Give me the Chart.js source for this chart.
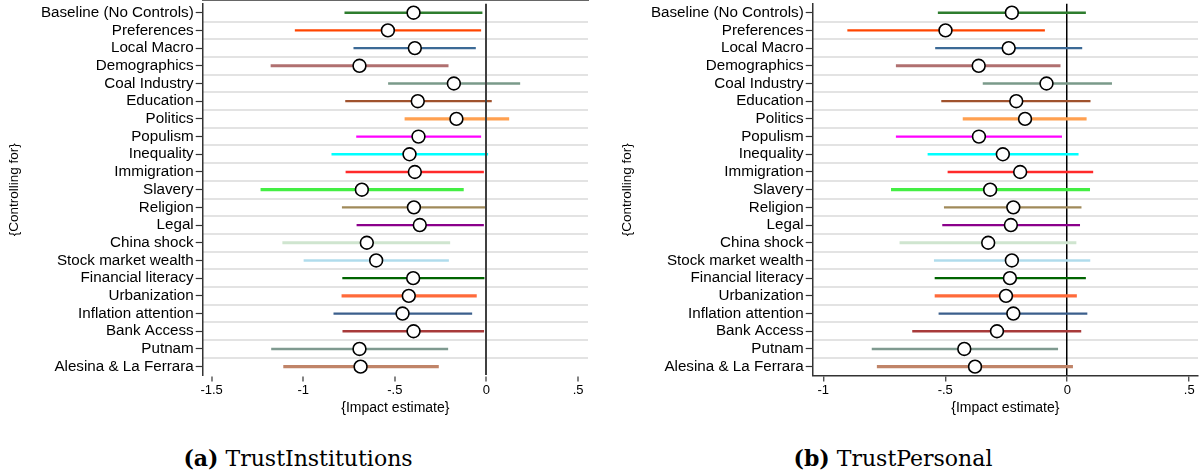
<!DOCTYPE html>
<html><head><meta charset="utf-8">
<script src="https://cdn.jsdelivr.net/npm/chart.js@4.4.1/dist/chart.umd.min.js"></script>
<style>
html,body{margin:0;padding:0;background:#fff;}
body{width:1201px;height:473px;position:relative;overflow:hidden;}
canvas{position:absolute;top:0;}
#cL{left:0;}
#cR{left:600px;}
.cap{position:absolute;top:447px;font-family:"DejaVu Serif",serif;font-size:22px;line-height:1;color:#000;white-space:nowrap;transform:translateX(-50%);}
.cap b{font-weight:bold;}
</style>
</head><body>
<canvas id="cL" width="600" height="430"></canvas>
<canvas id="cR" width="601" height="430"></canvas>
<div class="cap" style="left:298px;"><b>(a)</b> TrustInstitutions</div>
<div class="cap" style="left:893px;"><b>(b)</b> TrustPersonal</div>
<script>
const categories = ["Baseline (No Controls)","Preferences","Local Macro","Demographics","Coal Industry","Education","Politics","Populism","Inequality","Immigration","Slavery","Religion","Legal","China shock","Stock market wealth","Financial literacy","Urbanization","Inflation attention","Bank Access","Putnam","Alesina & La Ferrara"];

// Panel (a) TrustInstitutions
const instEst  = [-0.398,-0.538,-0.391,-0.693,-0.178,-0.375,-0.164,-0.371,-0.420,-0.391,-0.680,-0.396,-0.364,-0.653,-0.602,-0.400,-0.424,-0.458,-0.398,-0.693,-0.687];
const instLow  = [-0.773,-1.044,-0.724,-1.176,-0.535,-0.769,-0.445,-0.709,-0.844,-0.767,-1.231,-0.787,-0.707,-1.112,-0.996,-0.785,-0.789,-0.833,-0.784,-1.173,-1.107];
const instHigh = [-0.024,-0.031,-0.060,-0.209, 0.182, 0.027, 0.122,-0.031, 0.007,-0.016,-0.126,-0.009,-0.016,-0.200,-0.207,-0.013,-0.055,-0.080,-0.015,-0.211,-0.262];

// Panel (b) TrustPersonal
const persEst  = [-0.227,-0.499,-0.240,-0.363,-0.085,-0.209,-0.173,-0.362,-0.264,-0.193,-0.316,-0.221,-0.231,-0.324,-0.227,-0.235,-0.251,-0.221,-0.288,-0.422,-0.378];
const persLow  = [-0.529,-0.900,-0.540,-0.701,-0.345,-0.515,-0.427,-0.701,-0.571,-0.489,-0.721,-0.504,-0.511,-0.686,-0.545,-0.542,-0.542,-0.526,-0.634,-0.800,-0.779];
const persHigh = [ 0.075,-0.093, 0.060,-0.029, 0.182, 0.094, 0.078,-0.023, 0.045, 0.105, 0.092, 0.057, 0.051, 0.036, 0.093, 0.075, 0.038, 0.081, 0.056,-0.039, 0.022];

const instTicks = [-1.5,-1,-0.5,0,0.5];
const persTicks = [-1,-0.5,0,0.5];

// styles
const lineColors = ["#2e7d2e","#ff4500","#3c6a96","#b07070","#7a9a8a","#a0522d","#ffa050","#ff00ff","#00ffff","#ff2a2a","#44ee44","#a08a5a","#8b008b","#cfe5cf","#b0dcec","#006400","#ff6a3a","#3b5f8c","#a83a3a","#7f9a90","#c08468"];
const thickRow = [false,false,false,true,false,false,true,false,false,false,true,false,false,true,false,false,true,false,false,false,true];

const FONT = "'Liberation Sans', Arial, sans-serif";
const fmt = v => v === 0 ? "0" : (v < 0 ? "-" : "") + String(Math.abs(v)).replace(/^0/, "");
// separator positions between neighbouring categories (index space)
const separators = categories.slice(1).map((c, i) => i + 0.5);

function makeChart(id, low, high, est, tickVals, xmin, xmax, yWidth, padRight, yTitlePad, zeroColor, zeroWidth, zeroOnTop) {
  const H = 430;
  const thin = categories.map((c,i) => thickRow[i] ? null : [low[i], high[i]]);
  const thick = categories.map((c,i) => thickRow[i] ? [low[i], high[i]] : null);
  return new Chart(document.getElementById(id), {
    data: {
      labels: categories,
      datasets: [
        {type:'bar', indexAxis:'y', data: thin, backgroundColor: lineColors, borderWidth:0, barThickness:1.7, grouped:false, order:2, xAxisID:'x', yAxisID:'y'},
        {type:'bar', indexAxis:'y', data: thick, backgroundColor: lineColors, borderWidth:0, barThickness:2.5, grouped:false, order:2, xAxisID:'x', yAxisID:'y'},
        {type:'line', indexAxis:'y', data: est, showLine:false, pointRadius:6.4, pointBackgroundColor:'#fff', pointBorderColor:'#000', pointBorderWidth:1.6, order:0, xAxisID:'x', yAxisID:'y'}
      ]
    },
    options: {
      indexAxis:'y',
      responsive:false, animation:false,
      layout:{autoPadding:false, padding:{top:3.85, right:padRight, bottom:0, left:0}},
      plugins:{legend:{display:false}, tooltip:{enabled:false}},
      scales:{
        x:{
          type:'linear', position:'bottom', min:xmin, max:xmax,
          afterBuildTicks: s => { s.ticks = tickVals.map(v => ({value:v})); },
          afterFit: s => { s.height = H - 375.5; s.paddingLeft = 0; s.paddingRight = 0; },
          ticks:{callback: v => fmt(v), font:{family:FONT, size:13}, color:'#000', padding:1, maxRotation:0, autoSkip:false},
          grid:{z: zeroOnTop ? 1 : -1, color: c => (c.tick && c.tick.value === 0) ? zeroColor : 'rgba(0,0,0,0)', lineWidth: zeroWidth, tickColor:'#333', tickWidth:1.2, tickLength:6},
          border:{color:'#333', width:1.5},
          title:{display:true, text:'{Impact estimate}', font:{family:FONT, size:14}, color:'#000', padding:{top:0, bottom:13.6}}
        },
        y:{
          type:'category', position:'left', offset:true,
          afterFit: s => { s.width = yWidth; s.paddingTop = 0; s.paddingBottom = 0; },
          ticks:{font:{family:FONT, size:15.2}, color:'#000', padding:2, autoSkip:false},
          grid:{offset:false, drawOnChartArea:false, tickColor:'#333', tickWidth:1.2, tickLength:7},
          border:{color:'#333', width:1.5},
          title:{display:true, text:'{Controlling for}', font:{family:FONT, size:13.5}, color:'#000', padding:{top:yTitlePad, bottom:0}}
        },
        y2:{
          type:'linear', position:'right', reverse:true, min:-0.5, max:categories.length - 0.5,
          afterBuildTicks: s => { s.ticks = separators.map(v => ({value:v})); },
          afterFit: s => { s.width = 0; s.paddingTop = 0; s.paddingBottom = 0; },
          ticks:{display:false},
          grid:{z:-2, drawTicks:false, color:'#e3e3e3', lineWidth:2},
          border:{display:false}
        }
      }
    }
  });
}

makeChart('cL', instLow, instHigh, instEst, instTicks, -1.5486, 0.554, 202.7, 12, 6.3, '#404040', 2, true);
makeChart('cR', persLow, persHigh, persEst, persTicks, -1.0434, 0.536, 212.7, 3, 18.9, '#000000', 1.5, false);
</script>
</body></html>
